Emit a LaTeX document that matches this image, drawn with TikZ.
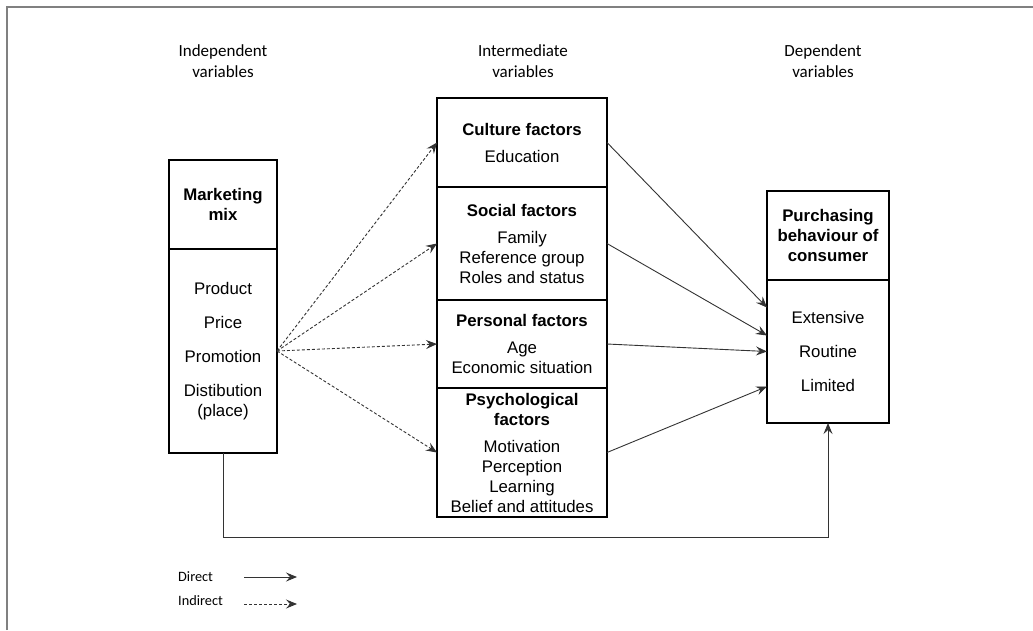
\documentclass[tikz,border=0pt]{standalone}
\usepackage{fontspec}
\setmainfont{Liberation Sans}
\newfontfamily\hdrfont{Carlito}
\usetikzlibrary{positioning, calc, arrows.meta}
\tikzset{>={Stealth[width=9pt,length=11pt,inset=4pt]}}
\tikzset{part/.style = {draw, line width = 1.4pt, outer sep = 0pt, inner sep = 0pt, align = center},
  hdr/.style = {font = \hdrfont\fontsize{17}{21}\selectfont, align = center},
  lgd/.style = {font = \hdrfont\fontsize{14.3}{17}\selectfont, anchor = west, inner sep = 0pt},
  direct/.style = {->, line width = 0.9pt, draw = black!80},
  indirect/.style = {->, line width = 0.9pt, draw = black!80, dash pattern = on 3pt off 2pt}}
\def \mixwidth {108pt}
\def \midwidth {170pt}
\def \depwidth {122pt}
\def \topheight {89pt}

\begin{document}
\begin{tikzpicture}[x = 1pt, y = 1pt]
\fontsize{16.8}{20}\selectfont
\useasboundingbox (0,0) rectangle (1033,-630);
\draw[line width = 2pt, draw = black!50] (7,-630) -- (7,-7) -- (1033,-7);

% column headers
\node (indep) [hdr] at (223,-61.5) {Independent\\variables};
\node (inter) [hdr] at (523,-61.5) {Intermediate\\variables};
\node (dep) [hdr] at (823,-61.5) {Dependent\\variables};

% marketing mix
\node (mmt) [part, minimum width = \mixwidth, minimum height = \topheight] at (223,-204.5) {\textbf{Marketing}\\\textbf{mix}};
\node (mmb) [part, minimum width = \mixwidth, minimum height = 204pt, below = 0pt of mmt] {Product\\[14pt]Price\\[14pt]Promotion\\[14pt]Distibution\\(place)};

% intermediate factors
\node (culture) [part, minimum width = \midwidth, minimum height = 89pt, anchor = north] at (522,-98) {\textbf{Culture factors}\\[7pt]Education};
\node (social) [part, minimum width = \midwidth, minimum height = 113pt, below = 0pt of culture] {\textbf{Social factors}\\[7pt]Family\\Reference group\\Roles and status};
\node (personal) [part, minimum width = \midwidth, minimum height = 88pt, below = 0pt of social] {\textbf{Personal factors}\\[7pt]Age\\Economic situation};
\node (psych) [part, minimum width = \midwidth, minimum height = 129pt, below = 0pt of personal] {\textbf{Psychological}\\\textbf{factors}\\[7pt]Motivation\\Perception\\Learning\\Belief and attitudes};

% purchasing behaviour
\node (pbt) [part, minimum width = \depwidth, minimum height = \topheight, anchor = north] at (828,-191) {\textbf{Purchasing}\\\textbf{behaviour of}\\\textbf{consumer}};
\node (pbb) [part, minimum width = \depwidth, minimum height = 143pt, below = 0pt of pbt] {Extensive\\[14pt]Routine\\[14pt]Limited};

\draw[indirect] (mmb.east) to (culture.west);
\draw[indirect] (mmb.east) to (social.west);
\draw[indirect] (mmb.east) to (personal.west);
\draw[indirect] (mmb.east) to (psych.west);

\draw[direct] (culture.east) to ([yshift = 44pt] pbb.west);
\draw[direct] (social.east) to ([yshift = 16pt] pbb.west);
\draw[direct] (personal.east) to (pbb.west);
\draw[direct] (psych.east) to ([yshift = -35pt] pbb.west);

\draw[direct] (mmb.south) -- ++(0,-84) -| (pbb.south);

% legend
\node (ldirect) [lgd] at (178,-577) {Direct};
\node (lindirect) [lgd] at (178,-601) {Indirect};
\coordinate (dstart) at (244,-577);
\coordinate (dend) at (297,-577);
\coordinate (istart) at (244,-604);
\coordinate (iend) at (297,-604);
\draw[direct] (dstart) -- (dend);
\draw[indirect] (istart) -- (iend);

\end{tikzpicture}
\end{document}
